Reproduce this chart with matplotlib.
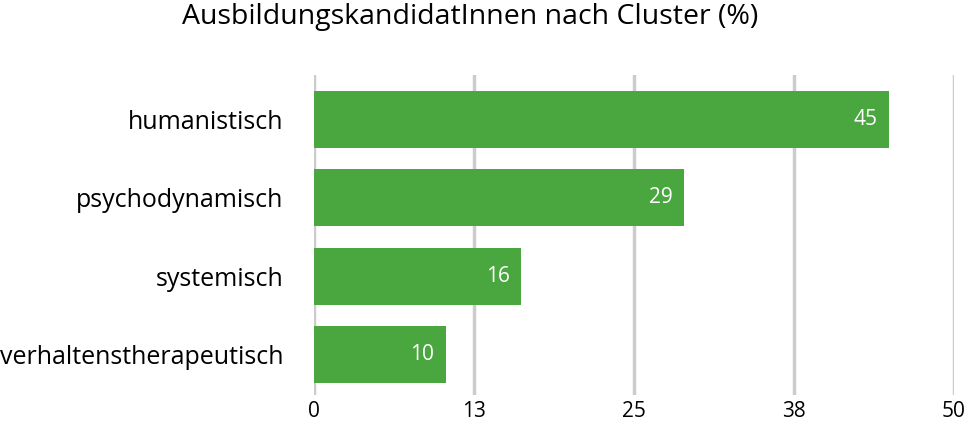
import matplotlib.pyplot as plt

# Daten
categories = ["humanistisch", "psychodynamisch", "systemisch", "verhaltenstherapeutisch"]
values = [44.9, 28.9, 16.2, 10.3]
tick_values = [0, 12.5, 25, 37.5, 50]
tick_labels = ["0", "13", "25", "38", "50"]

plt.rcParams["font.family"] = ["Open Sans", "DejaVu Sans"]

fig = plt.figure(figsize=(9.69, 4.22), dpi=100)
ax = fig.add_axes([314 / 969, 1 - 395 / 422, 640 / 969, 320 / 422])

ypos = list(range(len(categories)))
bars = ax.barh(ypos, values, height=0.73, color="#4aa63f", zorder=2)

for y, v in zip(ypos, values):
    ax.text(v - 0.9, y, f"{v:.0f}", ha="right", va="center",
            color="white", fontsize=15, zorder=3)

ax.set_xlim(0, 50)
ax.set_ylim(3.52, -0.57)
ax.set_xticks(tick_values)
ax.set_xticklabels(tick_labels, fontsize=15)
ax.set_yticks(ypos)
ax.set_yticklabels(categories, fontsize=18)

ax.grid(axis="x", color="#cccccc", linewidth=2.5, zorder=1)
ax.tick_params(axis="both", length=0)
ax.tick_params(axis="x", pad=4)
ax.tick_params(axis="y", pad=22)
for s in ax.spines.values():
    s.set_visible(False)

fig.text(0.485, 1 - 17 / 422, "AusbildungskandidatInnen nach Cluster (%)",
         ha="center", va="center", fontsize=20.5)

plt.savefig("out.png", dpi=100)
